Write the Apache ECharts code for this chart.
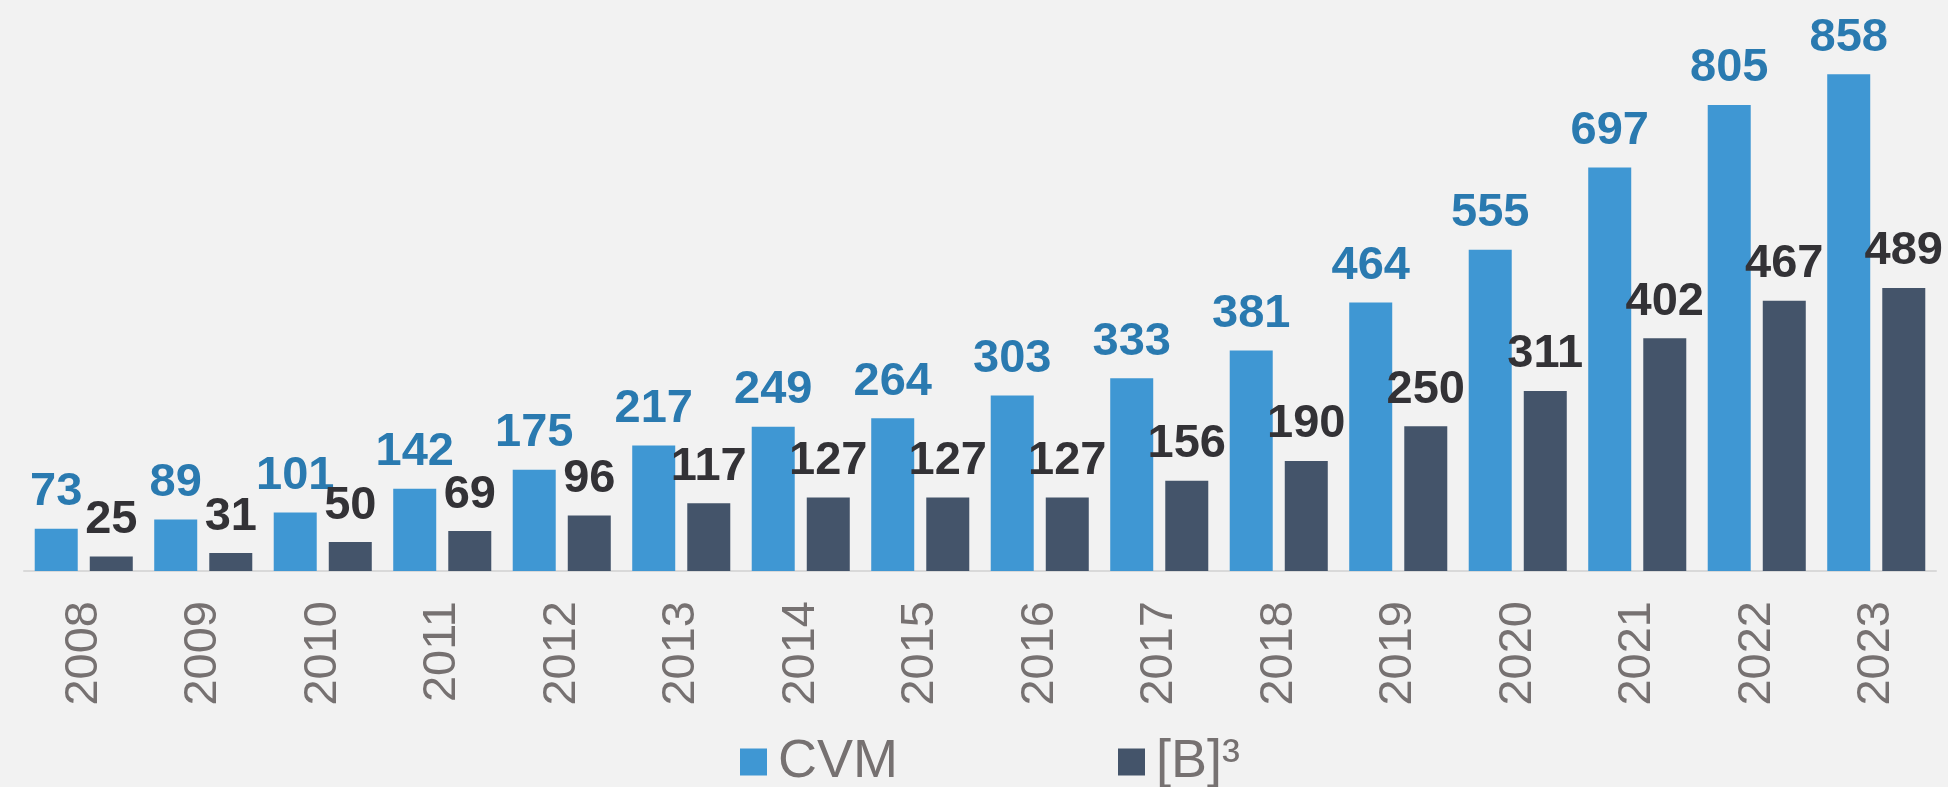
<!DOCTYPE html>
<html>
<head>
<meta charset="utf-8">
<title>CVM vs [B]3</title>
<script src="https://cdn.jsdelivr.net/npm/echarts@6/dist/echarts.min.js"></script>
<style>
  html, body { margin: 0; padding: 0; background: #f2f2f2; }
  #chart { width: 1948px; height: 787px; }
</style>
</head>
<body>
<div id="chart"></div>
<script>
const years = ['2008', '2009', '2010', '2011', '2012', '2013', '2014', '2015',
  '2016', '2017', '2018', '2019', '2020', '2021', '2022', '2023'];
const cvm = [73, 89, 101, 142, 175, 217, 249, 264, 303, 333, 381, 464, 555, 697, 805, 858];
const b3 = [25, 31, 50, 69, 96, 117, 127, 127, 127, 156, 190, 250, 311, 402, 467, 489];

const font = 'Arial, "Liberation Sans", sans-serif';
const chart = echarts.init(document.getElementById('chart'));

let option = {
  backgroundColor: '#f2f2f2',
  animation: false,
  grid: {
    left: 24,
    right: 12,
    top: 50,
    bottom: 216
  },
  legend: {
    left: 740,
    top: 735,
    padding: 0,
    itemWidth: 27,
    itemHeight: 27,
    itemGap: 220,
    icon: 'rect',
    textStyle: {
      fontFamily: font,
      fontSize: 54,
      color: '#767171',
      padding: [0, 0, 0, 6]
    },
    data: ['CVM', '[B]³']
  },
  xAxis: {
    type: 'category',
    data: years,
    axisTick: { show: false },
    axisLine: { lineStyle: { color: '#d9d9d9', width: 2 } },
    axisLabel: {
      rotate: 90,
      margin: 30,
      fontFamily: font,
      fontSize: 47,
      color: '#767171'
    }
  },
  yAxis: {
    type: 'value',
    min: 0,
    max: 900,
    show: false,
    splitLine: { show: false }
  },
  series: [
    {
      name: 'CVM',
      type: 'bar',
      data: cvm,
      barWidth: 43,
      barGap: '28%',
      itemStyle: { color: '#3f97d3' },
      label: {
        show: true,
        position: 'top',
        distance: 13,
        fontFamily: font,
        fontWeight: 'bold',
        fontSize: 47,
        color: '#2a7ab0'
      }
    },
    {
      name: '[B]³',
      type: 'bar',
      data: b3,
      barWidth: 43,
      itemStyle: { color: '#44546a' },
      label: {
        show: true,
        position: 'top',
        distance: 13,
        fontFamily: font,
        fontWeight: 'bold',
        fontSize: 47,
        color: '#333236'
      }
    }
  ]
};
chart.setOption(option);
</script>
</body>
</html>
